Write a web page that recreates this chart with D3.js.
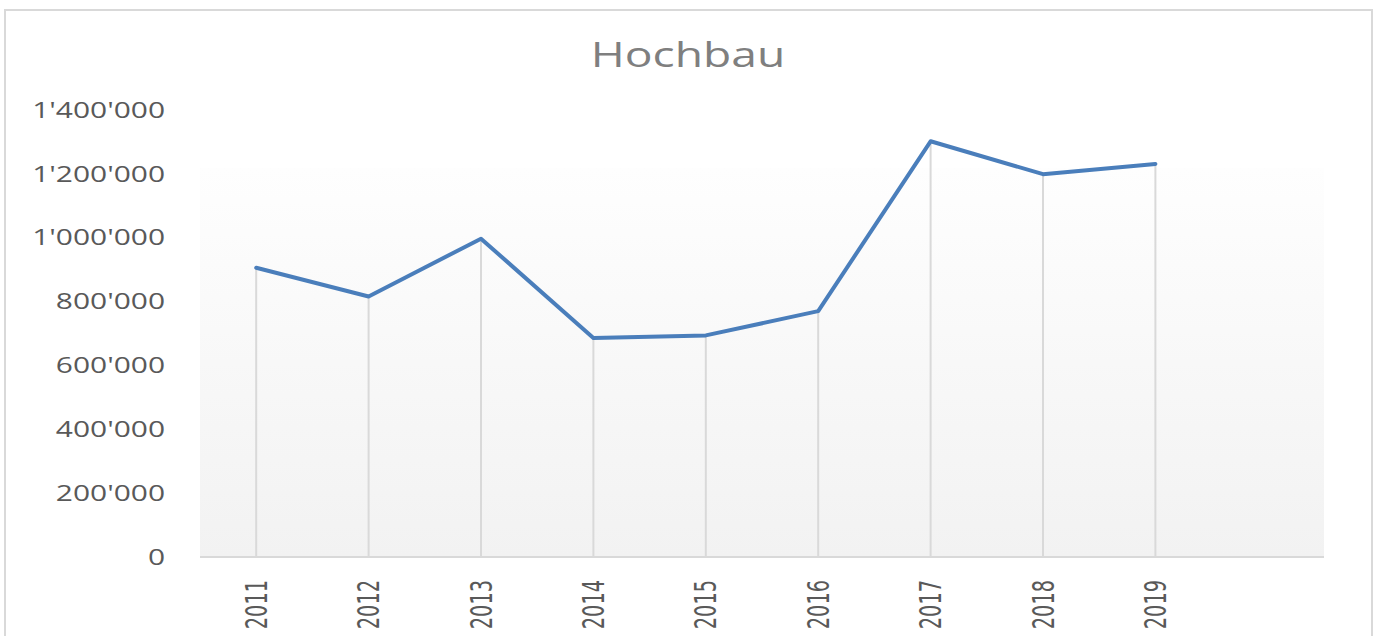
<!DOCTYPE html>
<html>
<head>
<meta charset="utf-8">
<script src="https://cdn.jsdelivr.net/npm/d3@7"></script>
<style>
  body { margin: 0; background: #fff; }
  svg { display: block; }
</style>
</head>
<body>
<svg id="chart"></svg>
<script>
// data
const years = ["2011", "2012", "2013", "2014", "2015", "2016", "2017", "2018", "2019"];
const values = [906000, 816000, 997000, 686000, 694000, 770000, 1302000, 1199000, 1231000];
const yTicks = [0, 200000, 400000, 600000, 800000, 1000000, 1200000, 1400000];
const title = "Hochbau";

const width = 1376, height = 636;
const margin = { top: 110, right: 52, bottom: 79, left: 200 };

var svg = d3.select("#chart")
    .attr("width", width)
    .attr("height", height);

const locale = d3.formatLocale({ decimal: ".", thousands: "'", grouping: [3], currency: ["", ""] });
const fmt = locale.format(",");

// one empty slot after 2019, like the original
var x = d3.scaleBand()
    .domain(years.concat([""]))
    .range([margin.left, width - margin.right]);

var y = d3.scaleLinear()
    .domain([0, 1400000])
    .range([height - margin.bottom, margin.top]);

// chart border
svg.append("rect")
    .attr("x", 5).attr("y", 10)
    .attr("width", width - 9).attr("height", height + 20)
    .attr("fill", "none")
    .attr("stroke", "#d9d9d9")
    .attr("stroke-width", 2);

// plot area gradient
var grad = svg.append("defs").append("linearGradient")
    .attr("id", "plotbg")
    .attr("x1", 0).attr("y1", 0).attr("x2", 0).attr("y2", 1);
grad.append("stop").attr("offset", "0%").attr("stop-color", "#fefefe");
grad.append("stop").attr("offset", "100%").attr("stop-color", "#f2f2f2");

svg.append("rect")
    .attr("x", margin.left)
    .attr("y", y(1200000) - 6)
    .attr("width", x.range()[1] - margin.left)
    .attr("height", y(0) - y(1200000) + 6)
    .attr("fill", "url(#plotbg)");

// title (text in the original is stretched sideways)
svg.append("text")
    .attr("transform", "translate(" + (width / 2) + ",55) scale(1.32,1)")
    .attr("text-anchor", "middle")
    .attr("dy", "0.35em")
    .attr("font-family", "'Open Sans', sans-serif")
    .attr("font-size", 35)
    .attr("fill", "#7f7f7f")
    .text(title);

// y labels
svg.append("g")
  .selectAll("text")
  .data(yTicks)
  .enter().append("text")
    .attr("transform", function(d) { return "translate(165," + y(d) + ") scale(1.36,1)"; })
    .attr("text-anchor", "end")
    .attr("dy", "0.35em")
    .attr("font-family", "'Open Sans', sans-serif")
    .attr("font-size", 22)
    .attr("fill", "#595959")
    .text(function(d) { return fmt(d); });

const pts = years.map(function(d, i) { return { year: d, value: values[i] }; });
const cx = function(d) { return x(d.year) + x.bandwidth() / 2; };

// drop lines
svg.append("g")
  .selectAll("line")
  .data(pts)
  .enter().append("line")
    .attr("x1", cx).attr("x2", cx)
    .attr("y1", function(d) { return y(d.value); })
    .attr("y2", y(0))
    .attr("stroke", "#d9d9d9")
    .attr("stroke-width", 2);

// x axis line
svg.append("line")
    .attr("x1", margin.left).attr("x2", x.range()[1])
    .attr("y1", y(0)).attr("y2", y(0))
    .attr("stroke", "#d9d9d9")
    .attr("stroke-width", 2);

// x labels, rotated
svg.append("g")
  .selectAll("text")
  .data(years)
  .enter().append("text")
    .attr("transform", function(d) {
      return "translate(" + (x(d) + x.bandwidth() / 2) + ",580) scale(1.4,1) rotate(-90)";
    })
    .attr("text-anchor", "end")
    .attr("dy", "0.35em")
    .attr("font-family", "'Liberation Sans Narrow', 'DejaVu Sans Condensed', sans-serif")
    .attr("font-size", 21.5)
    .attr("fill", "#595959")
    .text(function(d) { return d; });

// the series line
var line = d3.line()
    .x(cx)
    .y(function(d) { return y(d.value); });

svg.append("path")
    .datum(pts)
    .attr("d", line)
    .attr("fill", "none")
    .attr("stroke", "#4a7ebb")
    .attr("stroke-width", 4)
    .attr("stroke-linejoin", "round")
    .attr("stroke-linecap", "round");
</script>
</body>
</html>
